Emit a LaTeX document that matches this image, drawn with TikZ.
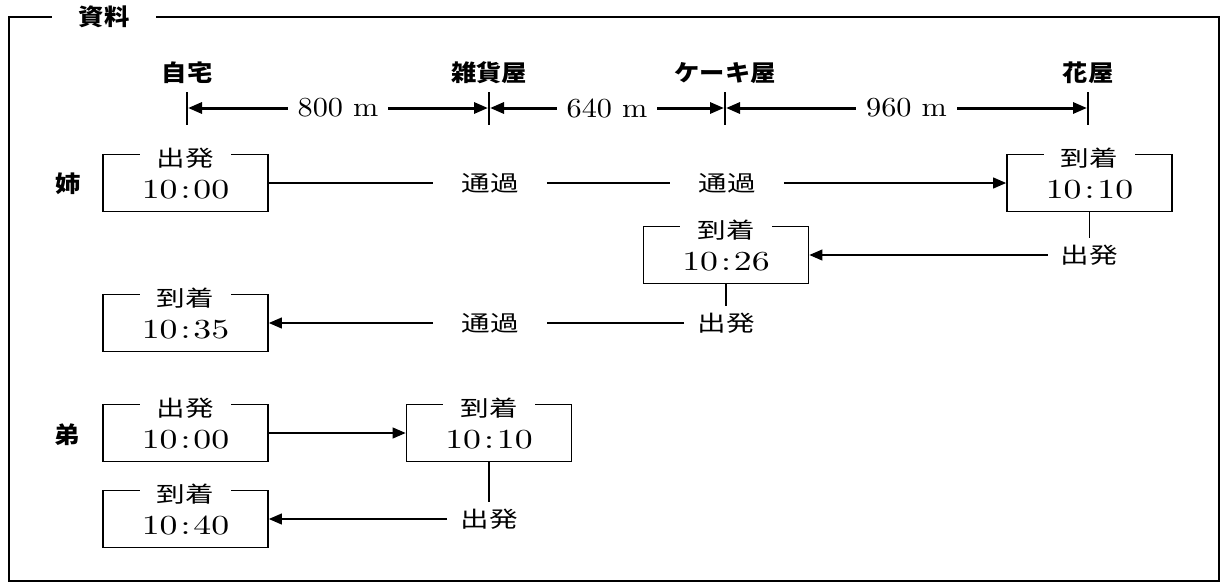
\documentclass[tikz,border=0pt]{standalone}
\usepackage{fontspec}
\newfontfamily\jp{Noto Sans CJK JP}[FakeStretch=1.3]
\newfontfamily\jpb{Noto Sans CJK JP}[FakeStretch=1.1]
\newfontfamily\numf{lmroman10-regular}[Extension=.otf,FakeStretch=1.3]
\newfontfamily\distf{lmroman10-regular}[Extension=.otf,FakeStretch=1.1]
\usetikzlibrary{arrows.meta}
\tikzset{
  timebox/.style={draw, line width=1.8pt, minimum width=165pt, minimum height=57pt,
    inner sep=0pt, text height=30pt, text depth=0pt, font=\numf\fontsize{27.5}{27.5}\selectfont},
  boxtitle/.style={fill=white, inner xsep=17pt, inner ysep=1pt, font=\jp\fontsize{22}{22}\selectfont},
  lbl/.style={fill=white, inner xsep=13pt, inner ysep=7pt, font=\jp\fontsize{22}{22}\selectfont},
  pass/.style={lbl, inner xsep=28pt},
  who/.style={font=\jpb\bfseries\fontsize{23}{23}\selectfont},
  conn/.style={line width=1.2pt},
  arr/.style={conn, -{Triangle[length=13pt,width=11pt]}},
  dim/.style={line width=3pt, {Triangle[length=14pt,width=11pt]}-{Triangle[length=14pt,width=11pt]},
    shorten <=1pt, shorten >=1pt},
  dist/.style={fill=white, inner xsep=10pt, font=\distf\fontsize{27.5}{27.5}\selectfont},
}
\newcommand{\clock}[2]{#1\hspace{3pt}:\hspace{3pt}#2}
\begin{document}
\begin{tikzpicture}[x=1pt, y=-1pt]
  \useasboundingbox (0,0) rectangle (1223,586);
  % frame
  \draw[line width=1.8pt] (9,17) rectangle (1219,581);
  \node[who, fill=white, inner xsep=27pt] (title) at (104,17) {資料};

  % places and distances
  \foreach \n/\x/\t in {home/187/自宅, zakka/489/雑貨屋, cake/725/ケーキ屋, flower/1088/花屋} {
    \coordinate (\n) at (\x,108);
    \draw[line width=2pt] ([yshift=16pt]\n) -- ([yshift=-17pt]\n);
    \node[who] (\n-name) at (\x,73) {\t};
  }
  \draw[dim] (home) -- (zakka) node[midway, dist] (d800) {800 m};
  \draw[dim] (zakka) -- (cake) node[midway, dist] (d640) {640 m};
  \draw[dim] (cake) -- (flower) node[midway, dist] (d960) {960 m};

  % sister
  \node[who] (ane) at (68,184) {姉};
  \node[timebox] (a1) at (185.5,183) {\clock{10}{00}};
  \node[boxtitle] (a1t) at ([yshift=-5pt]a1.north) {出発};
  \node[pass] (p1) at (490,183) {通過};
  \node[pass] (p2) at (727,183) {通過};
  \node[timebox] (a2) at (1089.5,183) {\clock{10}{10}};
  \node[boxtitle] (a2t) at ([yshift=-5pt]a2.north) {到着};
  \draw[conn] (a1) -- (p1);
  \draw[conn] (p1) -- (p2);
  \draw[arr] (p2) -- (a2);

  \node[lbl] (d1) at (1089.5,255) {出発};
  \node[timebox] (a3) at (726,255) {\clock{10}{26}};
  \node[boxtitle] (a3t) at ([yshift=-5pt]a3.north) {到着};
  \draw[conn] (a2) -- (d1);
  \draw[arr] (d1) -- (a3);

  \node[lbl] (d2) at (726,323) {出発};
  \node[pass] (p3) at (490,323) {通過};
  \node[timebox] (a4) at (185.5,323) {\clock{10}{35}};
  \node[boxtitle] (a4t) at ([yshift=-5pt]a4.north) {到着};
  \draw[conn] (a3) -- (d2);
  \draw[conn] (d2) -- (p3);
  \draw[arr] (p3) -- (a4);

  % brother
  \node[who] (otouto) at (67,435) {弟};
  \node[timebox] (b1) at (185.5,433) {\clock{10}{00}};
  \node[boxtitle] (b1t) at ([yshift=-5pt]b1.north) {出発};
  \node[timebox] (b2) at (489,433) {\clock{10}{10}};
  \node[boxtitle] (b2t) at ([yshift=-5pt]b2.north) {到着};
  \draw[arr] (b1) -- (b2);

  \node[lbl] (d3) at (489,519) {出発};
  \node[timebox] (b3) at (185.5,519) {\clock{10}{40}};
  \node[boxtitle] (b3t) at ([yshift=-5pt]b3.north) {到着};
  \draw[conn] (b2) -- (d3);
  \draw[arr] (d3) -- (b3);
\end{tikzpicture}
\end{document}
